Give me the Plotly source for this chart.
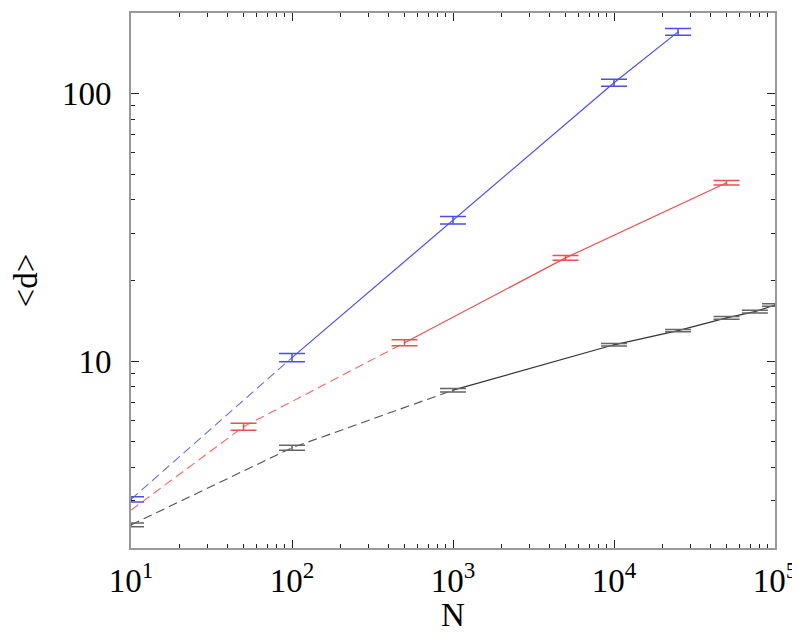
import plotly.graph_objects as go

# ---- data ----
blue_N = [10, 100, 1000, 10000, 25000]
blue_d = [3.04, 10.3, 33.6, 109.7, 170.0]
blue_err = [0.07, 0.37, 1.1, 3.3, 5.0]

red_N = [50, 500, 5000, 50000]
red_d = [5.68, 11.7, 24.3, 46.4]
red_err = [0.17, 0.3, 0.5, 0.9]
red_line_start_N = [10]
red_line_start_d = [2.77]

black_N = [10, 100, 1000, 10000, 25000, 50000, 75000, 100000]
black_d = [2.44, 4.74, 7.78, 11.5, 13.0, 14.5, 15.3, 16.2]
black_err = [0.04, 0.1, 0.12, 0.13, 0.13, 0.16, 0.18, 0.19]

x_tickvals = [10, 100, 1000, 10000, 100000]
x_ticktext = ["10<sup>1</sup>", "10<sup>2</sup>", "10<sup>3</sup>", "10<sup>4</sup>", "10<sup>5</sup>"]
y_tickvals = [10, 100]
y_ticktext = ["10", "100"]

BLUE = "#4c4cf2"
RED = "#f24c4c"
BLACK = "#333333"

series = [
    # (N, d, err, color, errcolor, dashed-line N, dashed-line d, solid start index)
    (blue_N, blue_d, blue_err, BLUE, BLUE, blue_N[:2], blue_d[:2], 1),
    (red_N, red_d, red_err, RED, RED, red_line_start_N + red_N[:2], red_line_start_d + red_d[:2], 1),
    (black_N, black_d, black_err, BLACK, "#666666", black_N[:3], black_d[:3], 2),
]

fig = go.Figure()
for N, d, err, col, ecol, dn, dd, k in series:
    fig.add_trace(go.Scatter(x=dn, y=dd, mode="lines",
                             line=dict(color=col, width=1.1, dash="9px,5px"),
                             opacity=0.85,
                             showlegend=False, hoverinfo="skip"))
    fig.add_trace(go.Scatter(x=N[k:], y=d[k:], mode="lines",
                             line=dict(color=col, width=1.2),
                             showlegend=False, hoverinfo="skip"))
    fig.add_trace(go.Scatter(x=N, y=d, mode="markers",
                             marker=dict(size=1, color=col),
                             error_y=dict(type="data", array=err, visible=True,
                                          color=ecol, thickness=1.5, width=13),
                             cliponaxis=False, showlegend=False))

minor_x = [m * 10 ** e for e in range(1, 5) for m in range(2, 10)]
minor_y = [m * 10 ** e for e in range(0, 2) for m in range(2, 10)]

font = dict(family="Liberation Serif", size=33, color="black")

fig.update_xaxes(type="log", range=[1, 5], automargin=False,
                 tickmode="array", tickvals=x_tickvals, ticktext=x_ticktext,
                 ticks="inside", ticklen=8, tickwidth=1.2, tickcolor="#222",
                 minor=dict(tickmode="array", tickvals=minor_x, ticks="inside",
                            ticklen=4, tickwidth=1, tickcolor="#222", showgrid=False),
                 showline=True, linecolor="#999999", linewidth=2, mirror="ticks",
                 showgrid=False, zeroline=False, tickfont=font,
                 ticklabelstandoff=2)
fig.update_yaxes(type="log", range=[0.30103, 2.30103], automargin=False,
                 tickmode="array", tickvals=y_tickvals, ticktext=y_ticktext,
                 ticks="inside", ticklen=8, tickwidth=1.2, tickcolor="#222",
                 minor=dict(tickmode="array", tickvals=minor_y, ticks="inside",
                            ticklen=4, tickwidth=1, tickcolor="#222", showgrid=False),
                 showline=True, linecolor="#999999", linewidth=2, mirror="ticks",
                 showgrid=False, zeroline=False, tickfont=font,
                 ticklabelstandoff=11,
                 title=dict(text="&lt;d&gt;", font=font, standoff=16))

fig.add_annotation(text="N", xref="paper", yref="paper", x=0.5, y=0,
                   xanchor="center", yanchor="middle", yshift=-67,
                   showarrow=False, font=font)

# page body has an 8px margin, so the figure is shifted by that amount
fig.update_layout(width=792, height=632,
                  margin=dict(l=123, r=25, t=5, b=92),
                  paper_bgcolor="white", plot_bgcolor="white",
                  showlegend=False)

fig.write_html("out.html")
